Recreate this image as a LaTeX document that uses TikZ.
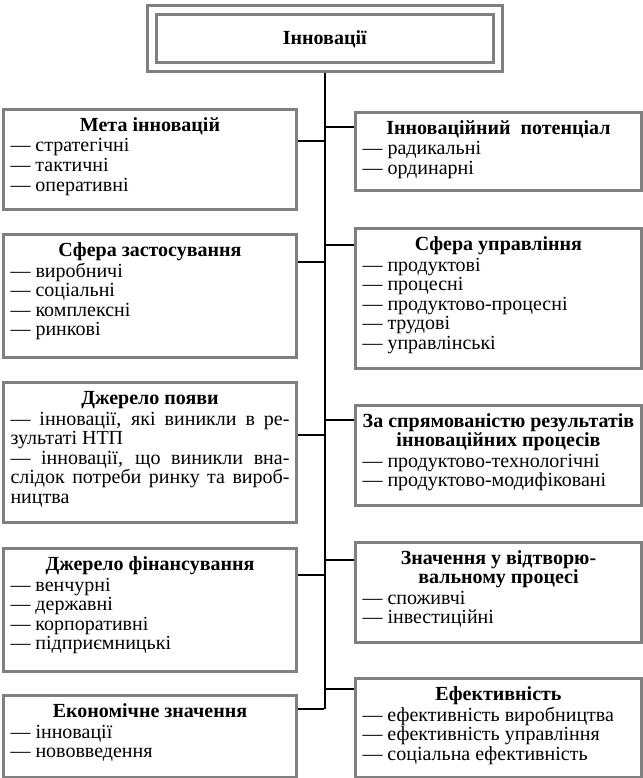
\documentclass[tikz,border=0pt]{standalone}
\usepackage{fontspec}
\setmainfont{Liberation Serif}
\definecolor{boxgray}{HTML}{808080}
\newcommand{\ttl}[1]{{\centering\bfseries\fontsize{20}{17.5}\selectfont\rule{0pt}{22pt}#1\par}\vspace{1pt}}
\newcommand{\itm}[1]{\par\noindent — #1}
\newcommand{\cbox}[6]{% name, x, ytop, width, height, content
  \node[catbox] (#1) at (#2,#3) {\parbox[c][#5pt][t]{\dimexpr#4pt-14pt\relax}{\fontsize{20}{19.5}\selectfont\raggedright #6}};}
\begin{document}
\begin{tikzpicture}[x=1pt,y=-1pt,
  catbox/.style={draw=boxgray, line width=3pt, fill=white, inner xsep=7pt, inner ysep=0pt, anchor=north west},
  topbox/.style={draw=boxgray, line width=3pt, double=white, double distance=6pt, fill=white,
    minimum width=345.5pt, minimum height=57pt, inner sep=0pt, font=\bfseries\fontsize{20}{20}\selectfont},
  conn/.style={draw=black, line width=1.5pt}]
\useasboundingbox (0,0) rectangle (642,778);
\node[topbox] (top) at (324.75,39) {Інновації};
% left column
\cbox{L1}{2}{108}{293}{100}{\ttl{Мета інновацій}\itm{стратегічні}\itm{тактичні}\itm{оперативні}}
\cbox{L2}{2}{233}{293}{123}{\ttl{Сфера застосування}\itm{виробничі}\itm{соціальні}\itm{комплексні}\itm{ринкові}}
\cbox{L3}{2}{381}{293}{140}{\ttl{Джерело появи}\noindent\makebox[\linewidth][s]{— інновації, які виникли в ре-}\par\noindent зультаті НТП\par\noindent\makebox[\linewidth][s]{— інновації, що виникли вна-}\par\noindent\makebox[\linewidth][s]{слідок потреби ринку та вироб-}\par\noindent ництва}
\cbox{L4}{2}{547}{293}{123}{\ttl{Джерело фінансування}\itm{венчурні}\itm{державні}\itm{корпоративні}\itm{підприємницькі}}
\cbox{L5}{2}{694}{293}{82}{\ttl{Економічне значення}\itm{інновації}\itm{нововведення}}
% right column
\cbox{R1}{354}{111}{286}{78}{\ttl{Інноваційний\ \ потенціал}\itm{радикальні}\itm{ординарні}}
\cbox{R2}{354}{227}{286}{140}{\ttl{Сфера управління}\itm{продуктові}\itm{процесні}\itm{продуктово-процесні}\itm{трудові}\itm{управлінські}}
\cbox{R3}{354}{404}{286}{100}{\ttl{За спрямованістю результатів\\інноваційних процесів}\itm{продуктово-технологічні}\itm{продуктово-модифіковані}}
\cbox{R4}{354}{541}{286}{100}{\ttl{Значення у відтворю-\\вальному процесі}\itm{споживчі}\itm{інвестиційні}}
\cbox{R5}{354}{677}{286}{99}{\ttl{Ефективність}\itm{ефективність виробництва}\itm{ефективність управління}\itm{соціальна ефективність}}
% junctions on trunk
\coordinate (jL1) at (324,141);
\coordinate (jL2) at (324,262);
\coordinate (jL3) at (324,435);
\coordinate (jL4) at (324,575);
\coordinate (jL5) at (324,709);
\coordinate (jR1) at (324,127);
\coordinate (jR2) at (324,245);
\coordinate (jR3) at (324,420);
\coordinate (jR4) at (324,560);
\coordinate (jR5) at (324,689);
\draw[conn] ([yshift=-4.5pt]top.south) -- (top.south |- jL5);
\foreach \n in {L1,L2,L3,L4,L5} {\draw[conn] (\n.east |- j\n) -- (j\n);}
\foreach \n in {R1,R2,R3,R4,R5} {\draw[conn] (\n.west |- j\n) -- (j\n);}
\end{tikzpicture}
\end{document}
